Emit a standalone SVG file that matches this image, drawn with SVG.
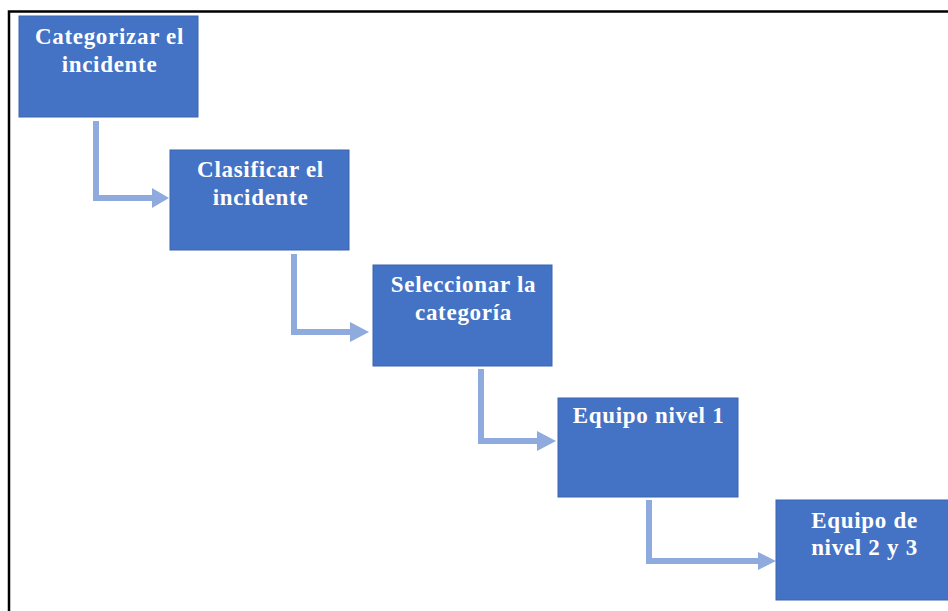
<svg xmlns="http://www.w3.org/2000/svg" width="948" height="611" viewBox="0 0 948 611">
  <style>
    .box { fill: #4472C4; stroke: #3B64AE; stroke-width: 1; }
    .label { fill: #FFFFFF; font-family: "Liberation Serif", "Times New Roman", serif; font-weight: bold; font-size: 23px; letter-spacing: 0.7px; text-anchor: middle; }
    .link { fill: none; stroke: #8FAADC; stroke-width: 6; }
    .head { fill: #8FAADC; }
  </style>
  <rect width="948" height="611" fill="#FFFFFF"/>
  <!-- outer frame -->
  <rect x="9" y="11.5" width="950" height="620" fill="none" stroke="#000000" stroke-width="2.5"/>

  <g id="connectors">
    <path class="link" d="M96 121 V198 H154"/>
    <polygon class="head" points="152,188 169,198 152,208"/>
    <path class="link" d="M294 254 V332 H352"/>
    <polygon class="head" points="350,322 369,332 350,342"/>
    <path class="link" d="M481 369 V441 H539"/>
    <polygon class="head" points="537,431 556,441 537,451"/>
    <path class="link" d="M649 500 V561 H760"/>
    <polygon class="head" points="758,552 776,561 758,570"/>
  </g>

  <g id="node-categorizar">
    <rect class="box" x="19" y="16" width="179" height="101"/>
    <text class="label" x="109.5" y="44">Categorizar el</text>
    <text class="label" x="109.5" y="72">incidente</text>
  </g>
  <g id="node-clasificar">
    <rect class="box" x="170" y="150" width="179" height="100"/>
    <text class="label" x="260.5" y="177">Clasificar el</text>
    <text class="label" x="260.5" y="205">incidente</text>
  </g>
  <g id="node-seleccionar">
    <rect class="box" x="373" y="265" width="179" height="101"/>
    <text class="label" x="463.5" y="292">Seleccionar la</text>
    <text class="label" x="463.5" y="320">categoría</text>
  </g>
  <g id="node-nivel1">
    <rect class="box" x="558" y="398" width="180" height="99"/>
    <text class="label" x="648.5" y="423">Equipo nivel 1</text>
  </g>
  <g id="node-nivel23">
    <rect class="box" x="776" y="500" width="176" height="100"/>
    <text class="label" x="864.5" y="528">Equipo de</text>
    <text class="label" x="864.5" y="555">nivel 2 y 3</text>
  </g>
</svg>
